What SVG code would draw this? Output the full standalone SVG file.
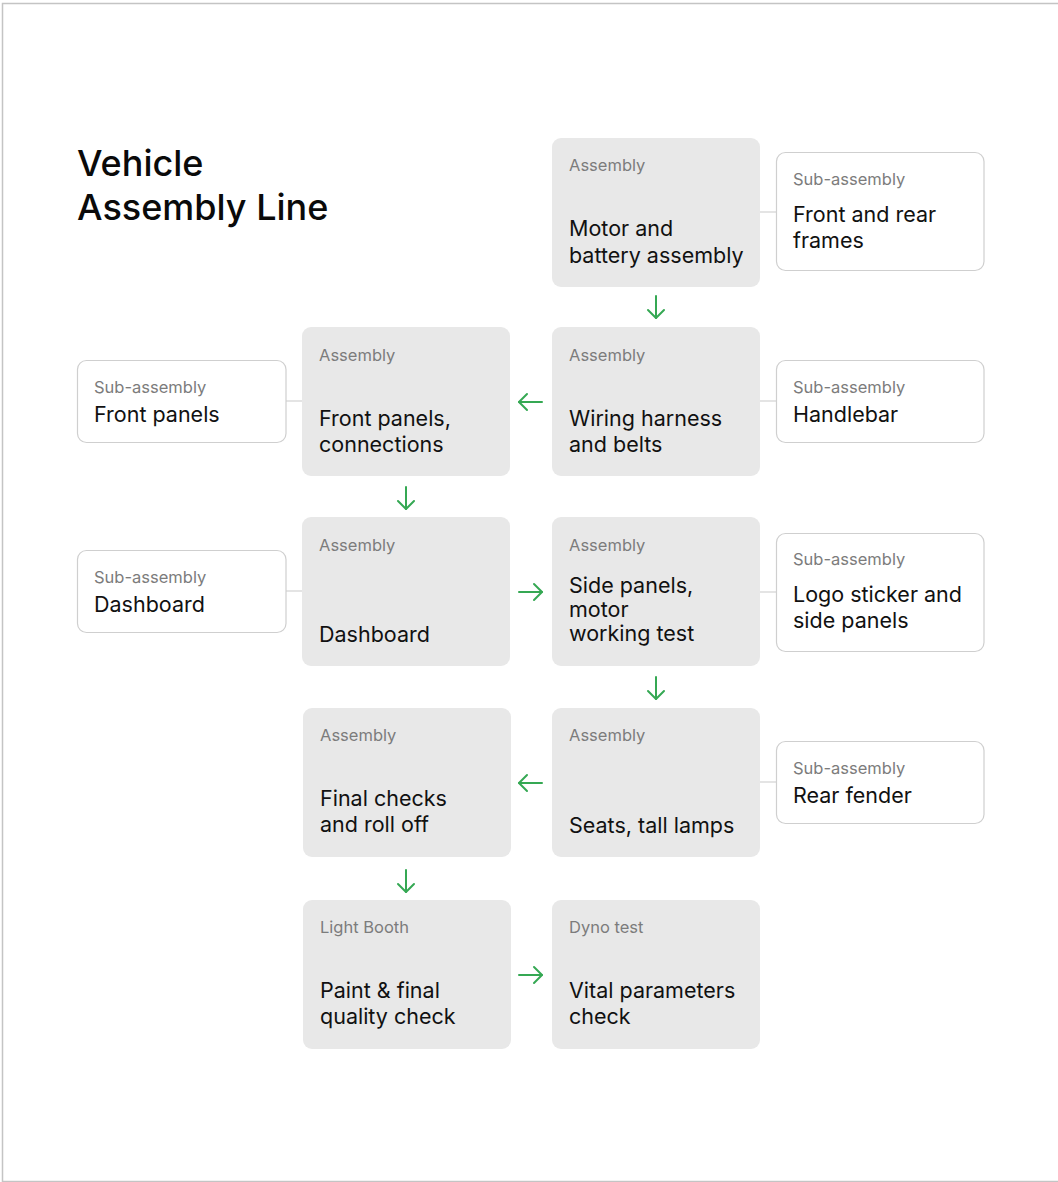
<svg xmlns="http://www.w3.org/2000/svg" width="1058" height="1182" viewBox="0 0 1058 1182">
<style>
.asm{fill:#e8e8e8;}
.sub{fill:#ffffff;stroke:#cfcfcf;stroke-width:1.2;}
.lbl{font-family:Inter,"Liberation Sans",sans-serif;font-size:16.5px;fill:#7c7c7c;}
.main{font-family:Inter,"Liberation Sans",sans-serif;font-size:21.5px;fill:#111111;}
.title{font-family:Inter,"Liberation Sans",sans-serif;font-size:36px;font-weight:500;fill:#0a0a0a;}
.conn{stroke:#d2d2d2;stroke-width:1.2;fill:none;}
.flow{stroke:#35a853;stroke-width:2;fill:none;stroke-linecap:round;marker-end:url(#ah);}
</style>
<defs>
<marker id="ah" markerUnits="userSpaceOnUse" markerWidth="20" markerHeight="20" viewBox="-10 -10 20 20" refX="0" refY="0" orient="auto">
<path d="M-8,-8 L0,0 L-8,8" fill="none" stroke="#35a853" stroke-width="2" stroke-linecap="round" stroke-linejoin="round"/>
</marker>
</defs>
<rect x="2.5" y="3.5" width="1060" height="1178" fill="#ffffff" stroke="#c4c4c4" stroke-width="1.5"/>
<g id="title">
<text class="title" x="77" y="176">Vehicle</text>
<text class="title" x="77" y="220">Assembly Line</text>
</g>
<g id="connectors">
<line class="conn" x1="760" y1="212" x2="776" y2="212"/>
<line class="conn" x1="760" y1="401" x2="776" y2="401"/>
<line class="conn" x1="286" y1="401" x2="302" y2="401"/>
<line class="conn" x1="760" y1="592" x2="776" y2="592"/>
<line class="conn" x1="286" y1="591" x2="302" y2="591"/>
<line class="conn" x1="760" y1="782" x2="776" y2="782"/>
<line class="flow" x1="656" y1="296" x2="656" y2="318"/>
<line class="flow" x1="542" y1="402" x2="519" y2="402"/>
<line class="flow" x1="406" y1="487" x2="406" y2="509"/>
<line class="flow" x1="519" y1="592" x2="542" y2="592"/>
<line class="flow" x1="656" y1="677" x2="656" y2="699"/>
<line class="flow" x1="542" y1="783" x2="519" y2="783"/>
<line class="flow" x1="406" y1="870" x2="406" y2="892"/>
<line class="flow" x1="519" y1="975" x2="542" y2="975"/>
</g>
<g id="motor-battery">
<rect class="asm" x="552" y="138" width="208" height="149" rx="9"/>
<text class="lbl" x="569" y="171">Assembly</text>
<text class="main" x="569" y="236">Motor and</text>
<text class="main" x="569" y="263">battery assembly</text>
</g>
<g id="sub-frames">
<rect class="sub" x="776.5" y="152.5" width="207.5" height="118" rx="9"/>
<text class="lbl" x="793" y="185">Sub-assembly</text>
<text class="main" x="793" y="222">Front and rear</text>
<text class="main" x="793" y="248">frames</text>
</g>
<g id="wiring">
<rect class="asm" x="552" y="327" width="208" height="149" rx="9"/>
<text class="lbl" x="569" y="361">Assembly</text>
<text class="main" x="569" y="426">Wiring harness</text>
<text class="main" x="569" y="452">and belts</text>
</g>
<g id="sub-handlebar">
<rect class="sub" x="776.5" y="360.5" width="207.5" height="82" rx="9"/>
<text class="lbl" x="793" y="393">Sub-assembly</text>
<text class="main" x="793" y="422">Handlebar</text>
</g>
<g id="front-panels">
<rect class="asm" x="302" y="327" width="208" height="149" rx="9"/>
<text class="lbl" x="319" y="361">Assembly</text>
<text class="main" x="319" y="426">Front panels,</text>
<text class="main" x="319" y="452">connections</text>
</g>
<g id="sub-front-panels">
<rect class="sub" x="77.5" y="360.5" width="208.5" height="82" rx="9"/>
<text class="lbl" x="94" y="393">Sub-assembly</text>
<text class="main" x="94" y="422">Front panels</text>
</g>
<g id="dashboard">
<rect class="asm" x="302" y="517" width="208" height="149" rx="9"/>
<text class="lbl" x="319" y="551">Assembly</text>
<text class="main" x="319" y="642">Dashboard</text>
</g>
<g id="sub-dashboard">
<rect class="sub" x="77.5" y="550.5" width="208.5" height="82" rx="9"/>
<text class="lbl" x="94" y="583">Sub-assembly</text>
<text class="main" x="94" y="612">Dashboard</text>
</g>
<g id="side-panels">
<rect class="asm" x="552" y="517" width="208" height="149" rx="9"/>
<text class="lbl" x="569" y="551">Assembly</text>
<text class="main" x="569" y="593">Side panels,</text>
<text class="main" x="569" y="617">motor</text>
<text class="main" x="569" y="641">working test</text>
</g>
<g id="sub-logo">
<rect class="sub" x="776.5" y="533.5" width="207.5" height="118" rx="9"/>
<text class="lbl" x="793" y="565">Sub-assembly</text>
<text class="main" x="793" y="602">Logo sticker and</text>
<text class="main" x="793" y="628">side panels</text>
</g>
<g id="seats">
<rect class="asm" x="552" y="708" width="208" height="149" rx="9"/>
<text class="lbl" x="569" y="741">Assembly</text>
<text class="main" x="569" y="833">Seats, tall lamps</text>
</g>
<g id="sub-rear-fender">
<rect class="sub" x="776.5" y="741.5" width="207.5" height="82" rx="9"/>
<text class="lbl" x="793" y="774">Sub-assembly</text>
<text class="main" x="793" y="803">Rear fender</text>
</g>
<g id="final-checks">
<rect class="asm" x="303" y="708" width="208" height="149" rx="9"/>
<text class="lbl" x="320" y="741">Assembly</text>
<text class="main" x="320" y="806">Final checks</text>
<text class="main" x="320" y="832">and roll off</text>
</g>
<g id="light-booth">
<rect class="asm" x="303" y="900" width="208" height="149" rx="9"/>
<text class="lbl" x="320" y="933">Light Booth</text>
<text class="main" x="320" y="998">Paint &amp; final</text>
<text class="main" x="320" y="1024">quality check</text>
</g>
<g id="dyno-test">
<rect class="asm" x="552" y="900" width="208" height="149" rx="9"/>
<text class="lbl" x="569" y="933">Dyno test</text>
<text class="main" x="569" y="998">Vital parameters</text>
<text class="main" x="569" y="1024">check</text>
</g>
</svg>
